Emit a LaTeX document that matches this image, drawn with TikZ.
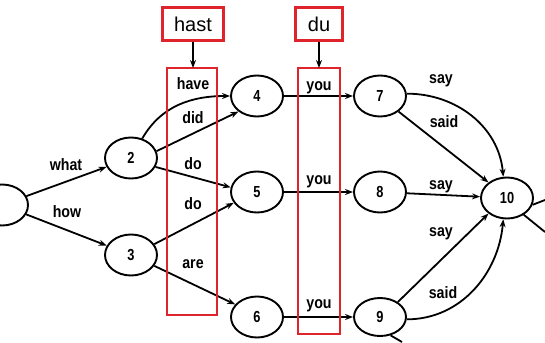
\documentclass[tikz,border=0pt]{standalone}
\usepackage{fontspec}
\setmainfont{Liberation Sans}
\newfontfamily\lblfont[FakeStretch=0.86]{Liberation Sans Bold}
\newfontfamily\numfont[FakeStretch=0.8]{Liberation Sans Bold}
\usetikzlibrary{arrows.meta,shapes.geometric}
\definecolor{boxred}{RGB}{224,36,44}
\begin{document}
\begin{tikzpicture}[x=1pt,y=-1pt,
  st/.style={draw,ellipse,line width=1.9pt,minimum width=52pt,minimum height=41pt,inner sep=0pt,font=\numfont\fontsize{16}{16}\selectfont},
  lbl/.style={font=\lblfont\fontsize{16.5}{16.5}\selectfont,inner sep=0pt},
  edge/.style={line width=1.8pt,-{Stealth[length=8pt,width=6pt]}},
  stub/.style={line width=1.8pt},
  redbox/.style={draw=boxred,line width=2.4pt},
  tag/.style={redbox,inner sep=0pt,minimum width=%
    #1,minimum height=33pt,font=\fontsize{20}{20}\selectfont},
  down/.style={line width=1.8pt,-{Stealth[length=8pt,width=6pt]}}]
\useasboundingbox (0,0) rectangle (545,342);
% states
\node[st] (n1) at (2,205) {};
\node[st] (n2) at (131,158) {2};
\node[st] (n3) at (131,255) {3};
\node[st] (n4) at (257,96) {4};
\node[st] (n5) at (257,192) {5};
\node[st] (n6) at (257,317) {6};
\node[st] (n7) at (380,96) {7};
\node[st] (n8) at (380,192) {8};
\node[st,minimum height=38pt] (n9) at (380,317) {9};
\node[st] (n10) at (507,198) {10};
% edges
\draw[edge] (n1) -- (n2);
\draw[edge] (n1) -- (n3);
\draw[edge] (n2.60) to[out=60,in=180] (n4.west);
\draw[edge] (n2.15) -- (n4.220);
\draw[edge] (n2.-20) -- (n5.170);
\draw[edge] (n3.25) -- (n5.205);
\draw[edge] (n3.-25) -- (n6.150);
\draw[edge] (n4) -- (n7);
\draw[edge] (n5) -- (n8);
\draw[edge] (n6) -- (n9);
\draw[edge] (n7.5) to[out=0,in=95] (n10.100);
\draw[edge] (n7.-40) -- (n10.140);
\draw[edge] (n8) -- (n10);
\draw[edge] (n9.40) -- (n10.220);
\draw[edge] (n9.-5) to[out=0,in=-95] (n10.-100);
% stubs leaving the picture
\coordinate (o1) at (545,200);
\coordinate (o2) at (545,232);
\coordinate (o3) at (402,342);
\draw[stub] (n10.-15) -- (o1);
\draw[stub] (n10.-45) -- (o2);
\draw[stub] (n9.-60) -- (o3);
% labels
\node[lbl] (lwhat) at (66,165) {what};
\node[lbl] (lhow) at (67,212) {how};
\node[lbl] (lhave) at (193,84) {have};
\node[lbl] (ldid) at (193,118) {did};
\node[lbl] (ldo1) at (193,164) {do};
\node[lbl] (ldo2) at (193,204) {do};
\node[lbl] (lare) at (193,264) {are};
\node[lbl] (lyou1) at (319,88) {you};
\node[lbl] (lyou2) at (319,182) {you};
\node[lbl] (lyou3) at (319,306) {you};
\node[lbl] (lsay1) at (441,81) {say};
\node[lbl] (lsaid1) at (444,122) {said};
\node[lbl] (lsay2) at (441,187) {say};
\node[lbl] (lsay3) at (441,234) {say};
\node[lbl] (lsaid2) at (443,293) {said};
% red boxes
\draw[redbox] (167,68) rectangle (217,315);
\draw[redbox] (298,68) rectangle (340,334);
\node[tag=61pt] (hast) at (193,24) {hast};
\node[tag=47pt] (du) at (319,24) {du};
\coordinate (c1) at (193,68);
\coordinate (c2) at (319,68);
\draw[down] (hast) -- (c1);
\draw[down] (du) -- (c2);
\end{tikzpicture}
\end{document}
